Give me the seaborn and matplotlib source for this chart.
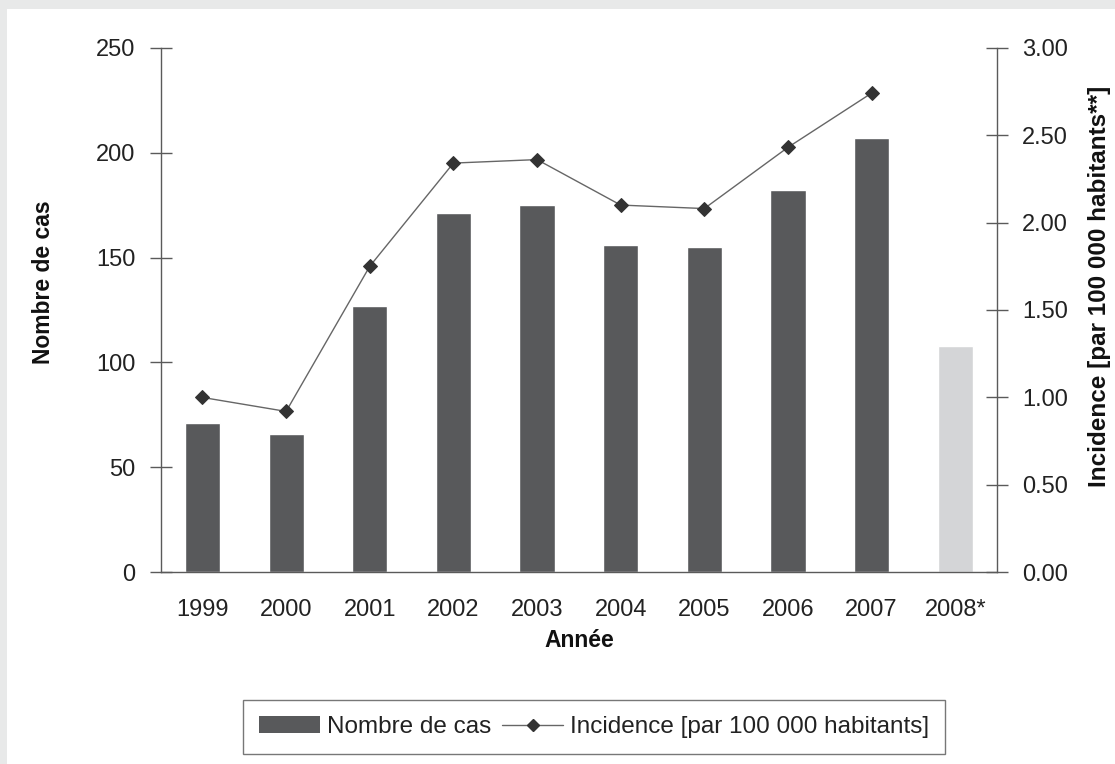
import numpy as np
import pandas as pd
import matplotlib
matplotlib.use('Agg')
import matplotlib.pyplot as plt
import seaborn as sns
from matplotlib.patches import Patch, Rectangle
from matplotlib.lines import Line2D

years = ['1999', '2000', '2001', '2002', '2003', '2004', '2005', '2006', '2007', '2008*']
cases = [71, 66, 127, 171, 175, 156, 155, 182, 207, 108]
incidence = [1.00, 0.92, 1.75, 2.34, 2.36, 2.10, 2.08, 2.43, 2.74]

sns.set_theme(style='white')
plt.rcParams['font.family'] = ['Liberation Sans', 'DejaVu Sans']

dark = '#58595b'
light = '#d4d5d7'
axcol = '#5a5a5a'

fig = plt.figure(figsize=(11.15, 7.64), dpi=100, facecolor='#e8e9e9')
# white panel, gray strip only on top and left like the source
fig.patches.append(Rectangle((7 / 1115, 0), 1, 1 - 9 / 764, transform=fig.transFigure,
                             facecolor='white', edgecolor='none', zorder=-10))
ax = fig.add_axes([0.1441, 0.2509, 0.8942 - 0.1441, 0.9376 - 0.2509])
ax.set_facecolor('none')

df = pd.DataFrame({'year': years, 'cases': cases})
palette = {y: (light if y.endswith('*') else dark) for y in years}
sns.barplot(data=df, x='year', y='cases', hue='year', palette=palette, legend=False,
            width=0.42, saturation=1, ax=ax)

ax2 = ax.twinx()
sns.lineplot(x=np.arange(len(incidence)), y=incidence, ax=ax2, color='#666666', lw=1,
             marker='D', markersize=7, markerfacecolor='#333333', markeredgecolor='#333333')

ax.set_xlim(-0.5, len(years) - 0.5)
ax.set_ylim(0, 250)
ax2.set_ylim(0, 3)
ax.set_yticks(np.arange(0, 251, 50))
ax2.set_yticks(np.arange(0, 3.01, 0.5))
ax2.set_yticklabels([f'{v:.2f}' for v in np.arange(0, 3.01, 0.5)])

ax.set_xticks(np.arange(-0.5, len(years), 1))
ax.set_xticklabels([])
ax.set_xticks(np.arange(len(years)), minor=True)
ax.set_xticklabels(years, minor=True)
ax.tick_params(axis='x', which='major', direction='inout', length=16, width=1, color=axcol)
ax.tick_params(axis='x', which='minor', length=0, pad=19, labelsize=17, labelcolor='#222222')
ax.tick_params(axis='y', direction='inout', length=16, width=1, color=axcol, pad=10,
               labelsize=17, labelcolor='#222222', left=True)
ax2.tick_params(axis='y', direction='inout', length=16, width=1, color=axcol, pad=10,
                labelsize=17, labelcolor='#222222', right=True)

for a in (ax, ax2):
    a.spines['top'].set_visible(False)
    for s in ('left', 'right', 'bottom'):
        a.spines[s].set_color(axcol)
        a.spines[s].set_linewidth(1)
ax.spines['right'].set_visible(False)
ax2.spines['left'].set_visible(False)
ax2.spines['bottom'].set_visible(False)
ax.grid(False)
ax2.grid(False)

ax.set_xlabel('Année', fontsize=16.5, fontweight='bold', color='#111111', labelpad=6)
ax.set_ylabel('Nombre de cas', fontsize=16.5, fontweight='bold', color='#111111')
ax2.set_ylabel('Incidence [par 100 000 habitants**]', fontsize=17.5, fontweight='bold', color='#111111')
ax.yaxis.set_label_coords(-0.126, 0.553)
ax2.yaxis.set_label_coords(1.109, 0.545)

handles = [Patch(facecolor=dark, edgecolor='none'),
           Line2D([0], [0], color='#666666', lw=1, marker='D', markersize=6,
                  markerfacecolor='#333333', markeredgecolor='#333333')]
leg = fig.legend(handles, ['Nombre de cas', 'Incidence [par 100 000 habitants]'],
                 loc='center', bbox_to_anchor=(0.533, 1 - 727 / 764), ncol=2,
                 fontsize=17.5, frameon=True, fancybox=False, handlelength=2.5,
                 handletextpad=0.3, columnspacing=0.45, borderpad=0.65, borderaxespad=0)
leg.get_frame().set_edgecolor('#555555')
leg.get_frame().set_linewidth(1)
for t in leg.get_texts():
    t.set_color('#222222')

fig.savefig('out.png', dpi=100, facecolor=fig.get_facecolor())
